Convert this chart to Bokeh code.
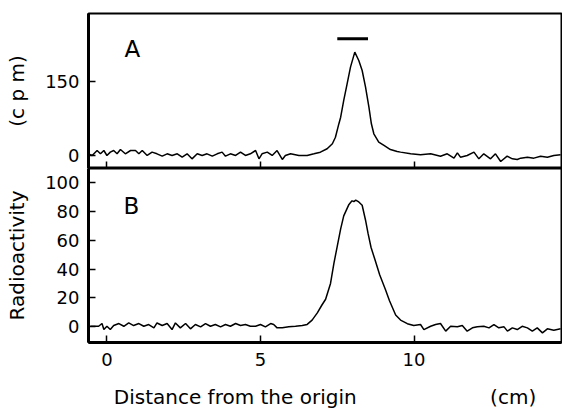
from bokeh.plotting import figure
from bokeh.layouts import column
from bokeh.models import Range1d, FixedTicker, Label
from bokeh.embed import file_html
from bokeh.resources import INLINE

# ---------------- data ----------------
x_ticks = [0, 5, 10]
ya_ticks = [0, 150]
yb_ticks = [0, 20, 40, 60, 80, 100]

# Panel A (c p m)
xa = [-0.55, -0.48, -0.32, -0.21, -0.10, 0.0, 0.11, 0.22, 0.33, 0.44, 0.60, 0.77, 0.93, 1.04, 1.15,
      1.31, 1.47, 1.63, 1.80, 1.96, 2.12, 2.29, 2.45, 2.61, 2.77, 2.94, 3.10, 3.26, 3.43, 3.59,
      3.75, 3.86, 4.02, 4.19, 4.35, 4.51, 4.67, 4.84, 4.95, 5.05, 5.22, 5.38, 5.54, 5.71, 5.81,
      5.98, 6.25, 6.52, 6.74, 6.95, 7.17, 7.34, 7.44, 7.55, 7.61, 7.71, 7.82, 7.93, 8.07, 8.20,
      8.31, 8.42, 8.53, 8.61, 8.69, 8.85, 9.02, 9.23, 9.45, 9.56, 9.89, 10.21, 10.54, 10.86,
      11.08, 11.30, 11.41, 11.51, 11.73, 11.95, 12.11, 12.27, 12.49, 12.65, 12.82, 13.03, 13.20,
      13.36, 13.47, 13.69, 13.90, 14.12, 14.34, 14.55, 14.77]
ya = [2, 0, 10.1, 3.4, 10.1, 0, 6.8, 10.1, 3.4, 12.2, 3.4, 10.1, 10.1, 3.4, 10.1,
      0, 6.8, 3.4, -1.4, 3.4, 0, 3.4, -3.4, 3.4, -6.8, 3.4, 0, 3.4, -1.4, 3.4,
      6.8, -1.4, 3.4, 0, 6.8, 0, 3.4, 10.1, -6.8, 3.4, 6.8, 0, 10.1, -8.1, 0,
      3.4, 0, 0, 3.4, 6.7, 13.6, 23.7, 37.1, 64, 77.7, 111.6, 145.4, 179.2, 209.7, 192.7,
      172.4, 138.6, 98, 64.3, 44, 27, 20.3, 12, 8, 6.8, 3.4, 1.4, 3.4, -1.4,
      3.4, -5.4, 5.4, -3.4, 0, 6.8, -6.8, 3.4, -6.8, 3.4, -12.2, -1.4, -6.8,
      -8.1, -5.4, -3.4, -5.4, -1.4, -3.4, 0, 1.4]

# fraction bar over peak A
bar_start = [7.5]
bar_end = [8.5]
bar_level = [237]

# Panel B (Radioactivity)
xb = [-0.54, -0.48, -0.27, -0.16, -0.10, 0.0, 0.11, 0.22, 0.39, 0.55, 0.71, 0.87, 1.04, 1.20,
      1.36, 1.53, 1.63, 1.80, 1.96, 2.12, 2.23, 2.39, 2.56, 2.72, 2.88, 3.05, 3.21, 3.37, 3.53,
      3.70, 3.86, 4.02, 4.19, 4.35, 4.51, 4.67, 4.84, 5.00, 5.16, 5.33, 5.43, 5.54, 5.71, 5.92,
      6.14, 6.36, 6.52, 6.68, 6.85, 7.00, 7.12, 7.28, 7.39, 7.50, 7.61, 7.71, 7.88, 7.98, 8.04,
      8.10, 8.20, 8.31, 8.42, 8.50, 8.60, 8.72, 8.88, 9.07, 9.20, 9.40, 9.56, 9.78, 9.99, 10.21,
      10.32, 10.54, 10.70, 10.86, 11.03, 11.19, 11.41, 11.57, 11.73, 11.90, 12.06, 12.27, 12.44,
      12.60, 12.76, 12.93, 13.04, 13.20, 13.36, 13.52, 13.69, 13.85, 14.01, 14.18, 14.34, 14.55,
      14.77]
yb = [0.2, 0.2, 0.2, 2.1, -2.1, 0.2, -2.1, 0.7, 2.1, 0.2, 2.5, 0.7, 2.1, 0.2,
      1.4, -0.9, 2.5, 0.7, 2.1, -2.1, 2.5, -0.9, 2.1, -1.6, 1.4, -0.2, 2.1, 0.2, 1.4,
      -0.2, 1.4, 0.2, 2.1, 0.7, 1.4, 0.2, 0.2, 1.4, -0.2, 2.1, 1.4, -0.9, -0.9, -0.2,
      0.2, 0.7, 1.5, 4.5, 9.5, 15, 19, 30, 44, 56, 68, 77, 85, 87.5, 87,
      88, 86.7, 84.4, 74, 65, 55, 47, 36, 25.6, 18, 8, 4.5, 2, 0.7, 1.4,
      -2.1, 0.2, 1.4, 2.1, -3.2, 0.2, -0.2, 0.7, -3.2, -0.9, -0.2, 0.2, -0.9,
      1.4, -0.9, -0.2, -3.2, -0.9, -2.1, 0.2, -0.9, -3.2, -0.9, -4.4, -1.6, -2.5,
      -1.6]

x_title = "Distance from the origin" + "\u00a0" * 21 + "(cm)"

FONT = "DejaVu Sans"
xr = Range1d(-0.6, 14.8)


def style(p, ytick_list):
    p.grid.visible = False
    p.outline_line_color = "black"
    p.outline_line_width = 2
    p.background_fill_color = "white"
    p.border_fill_color = "white"
    for ax in (p.xaxis[0], p.yaxis[0]):
        ax.axis_line_width = 3
        ax.axis_line_color = "black"
        ax.major_tick_line_width = 1.5
        ax.major_tick_in = 7
        ax.major_tick_out = 0
        ax.minor_tick_in = 0
        ax.minor_tick_out = 0
        ax.major_label_text_font = FONT
        ax.major_label_text_color = "black"
        ax.axis_label_text_font = FONT
        ax.axis_label_text_font_style = "normal"
        ax.axis_label_text_color = "black"
    p.xaxis[0].ticker = FixedTicker(ticks=x_ticks)
    p.yaxis[0].ticker = FixedTicker(ticks=ytick_list)
    p.yaxis[0].major_label_text_font_size = "18px"
    p.yaxis[0].major_label_standoff = 9
    p.yaxis[0].axis_label_text_font_size = "20px"
    p.yaxis[0].axis_label_standoff = 13


pa = figure(width=562, height=168, x_range=xr, y_range=Range1d(-26.4, 288),
            output_backend="svg", toolbar_location=None,
            min_border_left=88, min_border_right=1, min_border_top=13, min_border_bottom=0)
style(pa, ya_ticks)
pa.xaxis[0].major_label_overrides = {0: "", 5: "", 10: ""}
pa.xaxis[0].major_label_text_font_size = "1px"
pa.xaxis[0].major_label_standoff = 0
pa.yaxis[0].axis_label = "(c p m)"
pa.line(xa, ya, line_color="black", line_width=1.5)
pa.segment(x0=bar_start, y0=bar_level, x1=bar_end, y1=bar_level, line_color="black", line_width=3)
pa.add_layout(Label(x=0.83, y=215, text="A", text_font=FONT, text_font_size="23px",
                    text_align="center", text_baseline="middle", text_color="black"))

pb = figure(width=562, height=243, x_range=xr, y_range=Range1d(-11.1, 110),
            output_backend="svg", toolbar_location=None,
            min_border_left=88, min_border_right=1, min_border_top=0, min_border_bottom=68)
style(pb, yb_ticks)
pb.xaxis[0].major_label_text_font_size = "18px"
pb.xaxis[0].major_label_standoff = 10
pb.xaxis[0].axis_label = x_title
pb.xaxis[0].axis_label_text_font_size = "20px"
pb.xaxis[0].axis_label_standoff = 16
pb.yaxis[0].axis_label = "Radioactivity"
pb.line(xb, yb, line_color="black", line_width=1.5)
pb.add_layout(Label(x=0.8, y=84, text="B", text_font=FONT, text_font_size="23px",
                    text_align="center", text_baseline="middle", text_color="black"))

layout = column(pa, pb, spacing=0)
open("out.html", "w").write(file_html(layout, INLINE))
